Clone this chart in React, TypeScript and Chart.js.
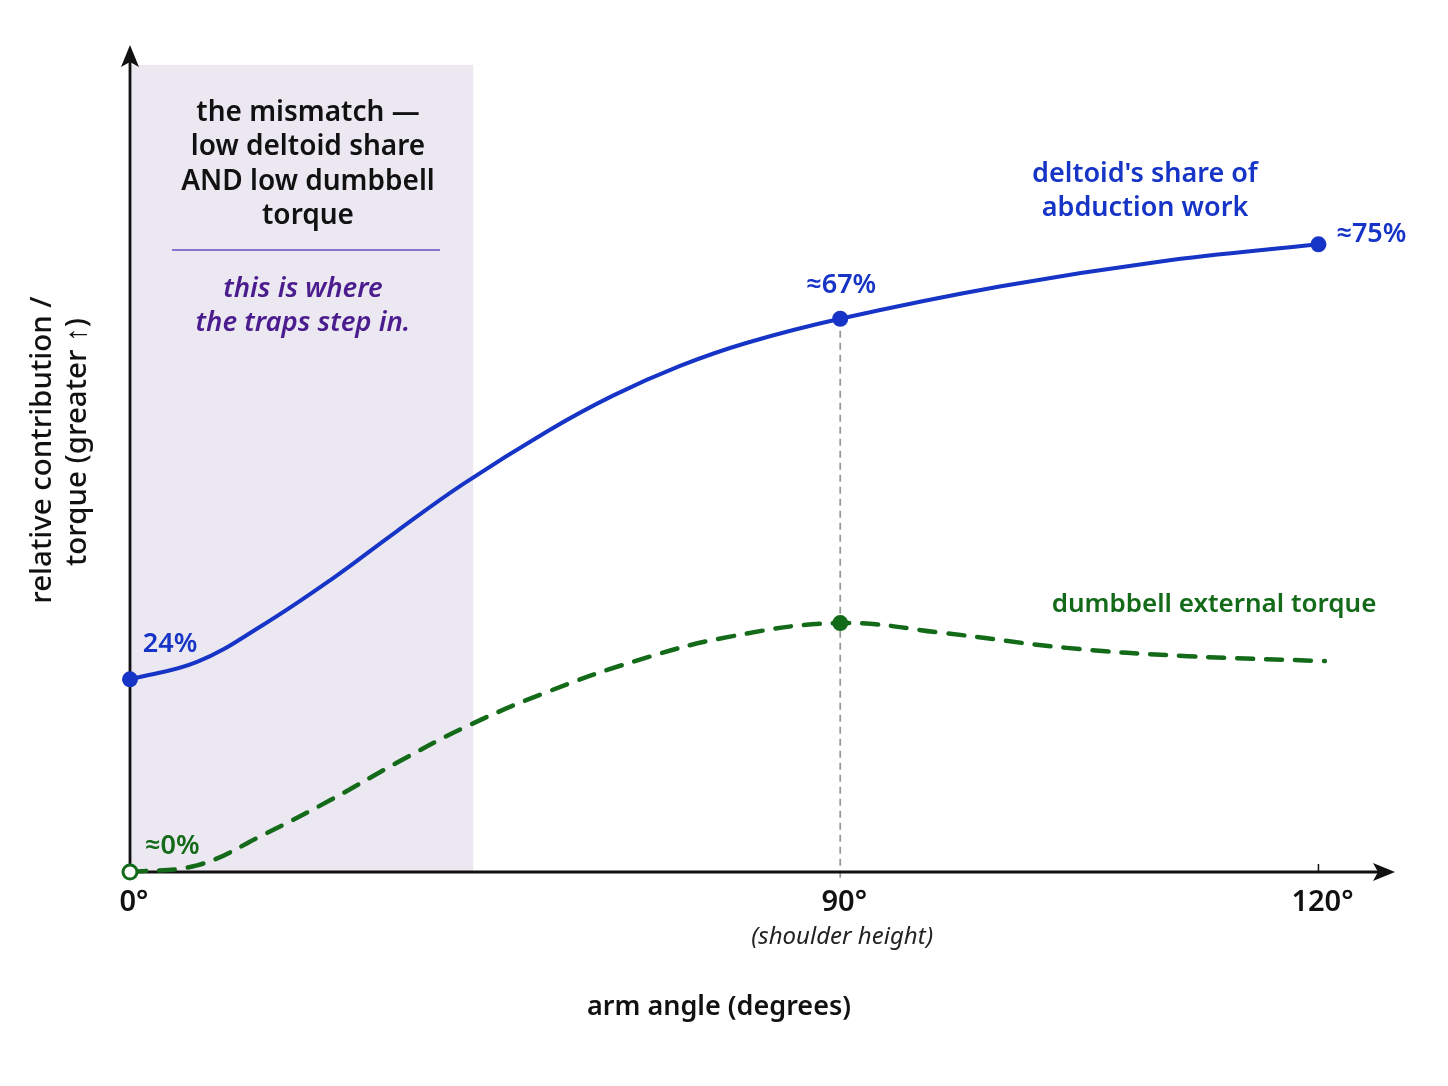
import React, { useEffect, useRef } from "react";
import { Chart, registerables } from "chart.js";

Chart.register(...registerables);

// ---- data (angles in degrees, values in relative units 0..100) ----
const TICK_ANGLES = [0, 90, 120];
const TICK_LABELS = ["0°", "90°", "120°"];

const DELTOID_ANGLES = [0, 8.5, 16.9, 25.4, 33.8, 42.2, 52.9, 61.2, 69.7, 78.2, 90, 100, 110, 120];
const DELTOID_SHARE = [23.3, 25.4, 29.9, 35.3, 41.2, 46.9, 53.3, 57.6, 61.2, 64.0, 66.9, 70.8, 73.8, 75.9];
const DELTOID_MARKERS = [0, 90, 120];

const TORQUE_ANGLES = [0, 8.5, 16.9, 25.4, 33.8, 42.2, 52.4, 64.0, 75.7, 90, 96.5, 104.2, 111.8, 120.4];
const DUMBBELL_TORQUE = [0, 0.8, 4.5, 8.7, 13.2, 17.4, 21.6, 25.5, 28.4, 30.1, 28.9, 27.1, 26.1, 25.5];
const TORQUE_MARKERS = [0, 90];

const SHADE_END_ANGLE = 43.5;
const SHADE_TOP = 97.6;
const Y_MAX = 100;

const BOX_TITLE = ["the mismatch —", "low deltoid share", "AND low dumbbell", "torque"];
const BOX_NOTE = ["this is where", "the traps step in."];
const DELTOID_LABEL = ["deltoid's share of", "abduction work"];
const TORQUE_LABEL = "dumbbell external torque";
const X_TITLE = "arm angle (degrees)";
const Y_TITLE = ["relative contribution /", "torque (greater ↑)"];
const X_SUBLABEL = "(shoulder height)";

// the drawn axis is stretched past 90° (piecewise scale)
const STRETCH_AFTER_90 = 2.02;
const X_MAX_POS = 160.3;
const pos = (deg: number) => (deg <= 90 ? deg : 90 + (deg - 90) * STRETCH_AFTER_90);

const BLUE = "#1634c6";
const GREEN = "#136a18";
const PURPLE = "#4b1c8e";
const FONT = "'Noto Sans', 'Open Sans', sans-serif";

export default function App() {
  const ref = useRef<HTMLCanvasElement | null>(null);

  useEffect(() => {
    const canvas = ref.current;
    if (!canvas) return;

    const text = (
      ctx: CanvasRenderingContext2D,
      s: string,
      x: number,
      y: number,
      size: number,
      color: string,
      weight = "600",
      style = "normal",
      align: CanvasTextAlign = "center"
    ) => {
      ctx.font = `${style} ${weight} ${size}px ${FONT}`;
      ctx.fillStyle = color;
      ctx.textAlign = align;
      ctx.textBaseline = "middle";
      ctx.fillText(s, x, y);
    };

    const decor = {
      id: "decor",
      beforeDatasetsDraw(chart: any) {
        const { ctx, scales } = chart;
        const xs = scales.x;
        const ys = scales.y;
        const x0 = xs.getPixelForValue(0);
        const y0 = ys.getPixelForValue(0);
        ctx.save();
        // shaded region
        ctx.fillStyle = "#ece8f2";
        const xe = xs.getPixelForValue(pos(SHADE_END_ANGLE));
        const yt = ys.getPixelForValue(SHADE_TOP);
        ctx.fillRect(x0, yt, xe - x0, y0 - yt);
        // divider line in box
        ctx.strokeStyle = "#6a4bc6";
        ctx.lineWidth = 1.5;
        ctx.beginPath();
        ctx.moveTo(172, 250);
        ctx.lineTo(440, 250);
        ctx.stroke();
        // vertical dashed guide at 90
        const x90 = xs.getPixelForValue(pos(90));
        const y90 = ys.getPixelForValue(DELTOID_SHARE[DELTOID_ANGLES.indexOf(90)]);
        ctx.strokeStyle = "#9a9a9a";
        ctx.lineWidth = 1.8;
        ctx.setLineDash([7, 5]);
        ctx.beginPath();
        ctx.moveTo(x90, y90);
        ctx.lineTo(x90, y0 + 6);
        ctx.stroke();
        ctx.setLineDash([]);
        // axes
        ctx.strokeStyle = "#111";
        ctx.fillStyle = "#111";
        ctx.lineWidth = 2.8;
        const xEnd = xs.getPixelForValue(X_MAX_POS);
        const yTop = ys.getPixelForValue(Y_MAX);
        ctx.beginPath();
        ctx.moveTo(x0, y0);
        ctx.lineTo(xEnd - 10, y0);
        ctx.moveTo(x0, y0);
        ctx.lineTo(x0, yTop + 10);
        ctx.stroke();
        // arrowheads
        ctx.beginPath();
        ctx.moveTo(xEnd, y0);
        ctx.lineTo(xEnd - 22, y0 - 9);
        ctx.lineTo(xEnd - 17, y0);
        ctx.lineTo(xEnd - 22, y0 + 9);
        ctx.closePath();
        ctx.fill();
        ctx.beginPath();
        ctx.moveTo(x0, yTop);
        ctx.lineTo(x0 - 9, yTop + 22);
        ctx.lineTo(x0, yTop + 17);
        ctx.lineTo(x0 + 9, yTop + 22);
        ctx.closePath();
        ctx.fill();
        // small tick at 120
        const x120 = xs.getPixelForValue(pos(120));
        ctx.lineWidth = 1.5;
        ctx.beginPath();
        ctx.moveTo(x120, y0 - 8);
        ctx.lineTo(x120, y0);
        ctx.stroke();
        ctx.restore();
      },
      afterDatasetsDraw(chart: any) {
        const { ctx, scales } = chart;
        const xs = scales.x;
        const ys = scales.y;
        const y0 = ys.getPixelForValue(0);
        ctx.save();
        // tick labels
        TICK_ANGLES.forEach((a, i) => {
          const px = xs.getPixelForValue(pos(a));
          text(ctx, TICK_LABELS[i], px + 4, y0 + 31, 29, "#111");
        });
        text(ctx, X_SUBLABEL, xs.getPixelForValue(pos(90)) + 2, y0 + 65, 24, "#222", "normal", "italic");
        text(ctx, X_TITLE, 719, 1007, 27, "#111");
        // y title (rotated)
        ctx.save();
        ctx.translate(43, 450);
        ctx.rotate(-Math.PI / 2);
        text(ctx, Y_TITLE[0], 0, 0, 29.5, "#111", "500");
        ctx.restore();
        ctx.save();
        ctx.translate(78, 442);
        ctx.rotate(-Math.PI / 2);
        text(ctx, Y_TITLE[1], 0, 0, 29.5, "#111", "500");
        ctx.restore();
        // box text
        BOX_TITLE.forEach((s, i) => text(ctx, s, 308, 113 + i * 34.3, 28, "#111"));
        BOX_NOTE.forEach((s, i) => text(ctx, s, 303, 289 + i * 34, 27.5, PURPLE, "600", "italic"));
        // value labels
        const dAt = (a: number) => DELTOID_SHARE[DELTOID_ANGLES.indexOf(a)];
        const tAt = (a: number) => DUMBBELL_TORQUE[TORQUE_ANGLES.indexOf(a)];
        text(ctx, "24%", xs.getPixelForValue(pos(0)) + 40, ys.getPixelForValue(dAt(0)) - 35, 27, BLUE);
        text(ctx, "≈67%", xs.getPixelForValue(pos(90)) + 1, ys.getPixelForValue(dAt(90)) - 33, 27, BLUE);
        text(ctx, "≈75%", xs.getPixelForValue(pos(120)) + 18, ys.getPixelForValue(dAt(120)) - 10, 27, BLUE, "600", "normal", "left");
        text(ctx, "≈0%", xs.getPixelForValue(pos(0)) + 15, ys.getPixelForValue(tAt(0)) - 26, 27, GREEN, "600", "normal", "left");
        DELTOID_LABEL.forEach((s, i) => text(ctx, s, 1145, 174 + i * 34, 27, BLUE));
        text(ctx, TORQUE_LABEL, 1214, 605, 26, GREEN);
        ctx.restore();
      },
    };

    const chart = new Chart(canvas, {
      type: "line",
      data: {
        datasets: [
          {
            label: "deltoid's share of abduction work",
            data: DELTOID_ANGLES.map((a, i) => ({ x: pos(a), y: DELTOID_SHARE[i] })),
            borderColor: BLUE,
            backgroundColor: BLUE,
            borderWidth: 4,
            tension: 0.4,
            pointRadius: (c: any) => (DELTOID_MARKERS.includes(DELTOID_ANGLES[c.dataIndex]) ? 8 : 0),
            pointBorderWidth: 0,
            pointBackgroundColor: BLUE,
            clip: false,
          } as any,
          {
            label: "dumbbell external torque",
            data: TORQUE_ANGLES.map((a, i) => ({ x: pos(a), y: DUMBBELL_TORQUE[i] })),
            borderColor: GREEN,
            backgroundColor: GREEN,
            borderWidth: 4.5,
            borderDash: [16, 13],
            borderCapStyle: "round",
            tension: 0.4,
            pointRadius: (c: any) => {
              const a = TORQUE_ANGLES[c.dataIndex];
              if (!TORQUE_MARKERS.includes(a)) return 0;
              return a === 0 ? 7 : 8;
            },
            pointBorderWidth: (c: any) => (TORQUE_ANGLES[c.dataIndex] === 0 ? 3 : 0),
            pointBorderColor: GREEN,
            pointBackgroundColor: (c: any) => (TORQUE_ANGLES[c.dataIndex] === 0 ? "#ffffff" : GREEN),
            clip: false,
          } as any,
        ],
      },
      options: {
        animation: false,
        responsive: false,
        devicePixelRatio: 1,
        layout: { padding: { left: 130, top: 45, right: 53, bottom: 214 } },
        scales: {
          x: { type: "linear", min: 0, max: X_MAX_POS, display: false },
          y: { type: "linear", min: 0, max: Y_MAX, display: false },
        },
        plugins: { legend: { display: false }, tooltip: { enabled: false } },
        events: [],
      },
      plugins: [decor],
    });

    return () => chart.destroy();
  }, []);

  return (
    <div style={{ position: "fixed", left: 0, top: 0, width: 1448, height: 1086, background: "#fff" }}>
      <canvas ref={ref} width={1448} height={1086} />
    </div>
  );
}
